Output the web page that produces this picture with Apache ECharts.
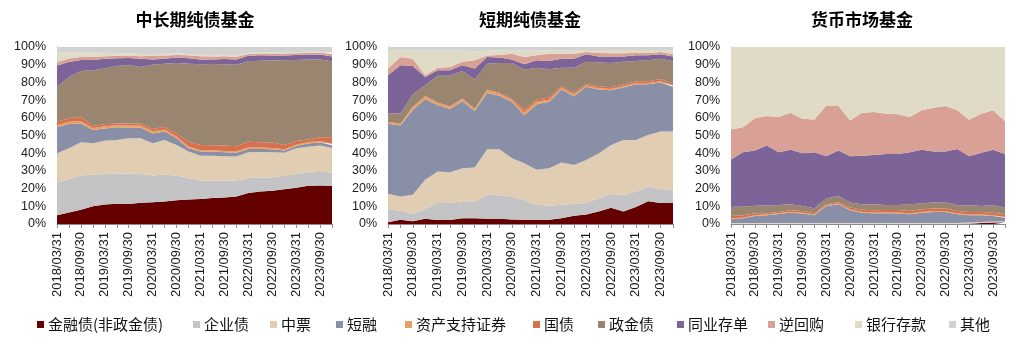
<!DOCTYPE html>
<html><head><meta charset="utf-8">
<script src="https://cdn.jsdelivr.net/npm/echarts@6/dist/echarts.min.js"></script>
<style>html,body{margin:0;padding:0;background:#fff}#c{width:1026px;height:349px}</style>
</head><body><div id="c"></div>
<script>
// Categories (quarter ends)
const categories = ['2018/03/31','2018/06/30','2018/09/30','2018/12/31','2019/03/31','2019/06/30','2019/09/30','2019/12/31',
 '2020/03/31','2020/06/30','2020/09/30','2020/12/31','2021/03/31','2021/06/30','2021/09/30','2021/12/31',
 '2022/03/31','2022/06/30','2022/09/30','2022/12/31','2023/03/31','2023/06/30','2023/09/30','2023/12/31'];
const seriesNames = ['金融债(非政金债)','企业债','中票','短融','资产支持证券','国债','政金债','同业存单','逆回购','银行存款','其他'];
const panelTitles = ['中长期纯债基金','短期纯债基金','货币市场基金'];

// 中长期纯债基金 (%)
const lt_fin   = [5,6.5,8,10,11,11.5,11.3,12,12.3,12.7,13.4,13.8,14.1,14.7,15,15.6,17.5,18.4,18.8,19.7,20.5,21.6,21.8,21.6];
const lt_corp  = [18.5,18.8,19.4,17.8,17.3,17,17.2,16.3,15.1,15.3,14,12.2,10.5,9.9,9.6,9,8.5,7.9,7.5,7.5,7.8,7.9,8.2,7.4];
const lt_mtn   = [16.5,17.5,18.8,17.8,18.7,19,19.9,20.1,18.2,19.5,17.3,14.9,13.9,13.9,13.7,13.5,14.5,14.4,14.2,13.1,14.5,14.2,14.3,14];
const lt_cp    = [14.6,13.7,10.6,7.5,7,7.1,6,6,5.6,4.7,3.7,1.9,2.4,2.4,2.2,2.2,1.9,1.7,1.7,1.2,1.2,1.8,1.7,1.5];
const lt_abs   = [1.2,1.2,1.2,1.2,1.2,1.2,1.2,1.2,1.2,1.2,1.0,1.0,0.8,0.8,0.8,0.8,0.8,0.8,0.8,0.8,0.8,0.8,0.8,0.8];
const lt_gov   = [2.0,2.0,2.6,1.2,1.1,1.0,1.2,1.2,1.3,1.6,1.8,2.7,3.0,2.8,3.0,2.8,3.3,3.0,3.0,2.4,2.1,1.5,2.2,3.7];
const lt_pfb   = [19.7,23.3,25.9,31.4,31.5,32.5,33.2,31.9,36.3,35.6,39.8,44.1,45.5,45.9,45.9,46.1,45.5,46.1,46.5,47.8,45.8,45.2,44,43];
const lt_ncd   = [12,8.5,6.2,5.8,5.6,4.3,3.8,4.6,2.9,2.8,3,3,2.7,2.6,3,2.9,3,3,2.7,2.7,2.8,2.7,2.7,2.7];
const lt_repo  = [2,2,1.6,1.8,1.4,1.4,1.4,1.5,2.1,1.8,1.5,1.7,1.9,1.7,1.6,1.6,1,1,1.1,1.1,1,1,1,1.3];
const lt_dep   = [5.5,3.5,2.7,2.5,2,1.5,1.2,1.2,1,1,0.8,0.8,0.8,0.8,0.8,0.8,0.8,0.7,0.7,0.7,0.7,0.6,0.6,0.8];
const lt_other = [3,3,3,3,3.2,3.5,3.6,4,4,3.8,3.7,3.9,4.4,4.5,4.4,4.7,3.2,3,3,3,2.8,2.7,2.7,3.2];

// 短期纯债基金 (%)
const st_fin   = [1,2.4,1.5,3,2.3,2.3,3.2,3.2,3,3,2.6,2.4,2.3,2.4,3.2,4.7,5.4,7.1,9.2,7,9.6,12.8,11.8,11.8];
const st_corp  = [7.4,5.1,4.3,5.6,9.5,9.5,9.6,9.6,13.5,13.3,13,11.3,8.6,7.9,7.7,6.7,6.4,7.5,7.9,9.3,8.8,8.4,7.9,7.9];
const st_mtn   = [8.7,8.1,10.7,16.4,17.8,17.5,18.7,19.1,25.7,25.9,21.5,20.6,19.7,21.2,23.8,22,24.4,25.2,27.6,31.2,29.1,29.1,32.5,32.5];
const st_cp    = [39.6,40.1,47.9,45.5,37.6,35.7,37.9,31.9,31.8,30.2,31.9,27.2,37.1,37.5,41.3,38.8,41.3,36.2,30.9,29.6,31.5,28.7,27.8,25.3];
const st_abs   = [0.8,0.8,1.5,1.5,1.2,1.2,1.2,1,1.5,1.2,1,1.5,1.5,1.2,1,1,0.8,0.8,0.7,0.7,0.7,0.7,0.7,0.7];
const st_gov   = [0.3,0.2,0.3,0.3,0.3,0.3,0.3,0.3,0.5,0.6,0.8,1.5,1.2,1.3,0.8,1,0.8,1,1,1,1,1,1.2,1.2];
const st_pfb   = [4.7,5.8,7,6.1,15,17.2,15.6,16.5,14.6,16.8,20.2,22.7,17.9,15.9,10.5,14.1,12.5,13.4,13.7,12.8,11.4,11.8,11.5,12.7];
const st_ncd   = [21.5,27.2,16.1,4.7,3.2,3.2,3.2,6.2,3.8,3,2,3,4.2,4.7,5.1,5.1,4.3,3.5,3.7,3.1,3.2,2.8,2.5,2.6];
const st_repo  = [3.8,4.7,4.1,0.9,1.4,1.8,1.9,4.7,0.8,1.5,3.2,4.2,2.8,4.1,2.8,2.8,1.3,1.9,1.7,1.7,1.3,1.3,1.3,1.2];
const st_dep   = [10.2,3.6,4.6,14.2,9.7,9.3,6.4,5,2.8,2.5,1.8,3.6,2.7,1.8,1.8,1.8,1.1,1.7,1.9,1.9,1.7,1.7,1.1,2.4];
const st_other = [2,2,2,1.8,2,2,2,2.5,2,2,2,2,2,2,2,2,1.7,1.7,1.7,1.7,1.7,1.7,1.7,1.7];

// 货币市场基金 (%)
const mm_fin   = [0,0,0,0,0,0,0,0,0,0,0,0,0,0,0,0,0,0,0,0,0.2,0.5,0.8,0.8];
const mm_corp  = [0.3,0.3,0.3,0.3,0.3,0.3,0.3,0.3,0.3,0.3,0.3,0.3,0.3,0.3,0.3,0.3,0.3,0.3,0.3,0.3,0.3,0.3,0.3,0.3];
const mm_mtn   = [0.3,0.3,0.3,0.3,0.3,0.3,0.3,0.3,0.3,0.3,0.3,0.3,0.3,0.3,0.3,0.3,0.3,0.3,0.3,0.3,0.3,0.3,0.3,0.3];
const mm_cp    = [2.1,2.6,3.9,4.3,5.1,5.8,5.4,4.3,9.6,10.6,7.2,5.8,5.5,5.5,5.5,4.9,5.8,6.2,6.2,4.9,4.1,3.8,3.1,2.2];
const mm_abs   = [0.4,0.4,0.4,0.4,0.4,0.4,0.4,0.4,0.4,0.4,0.4,0.4,0.4,0.4,0.4,0.4,0.4,0.4,0.4,0.4,0.4,0.4,0.4,0.4];
const mm_gov   = [1.4,1.3,1.2,0.8,0.7,1,1,0.8,0.6,0.9,1.1,1.2,1.3,1.4,1.4,1.5,1.5,1.5,1.7,1.5,1.5,1.5,1.5,1.5];
const mm_pfb   = [5.3,4.9,4.2,4.4,4,3.4,2.8,2.8,3.2,3.4,2.8,3.2,3.4,2.9,2.9,3.8,3.4,3.4,3.6,3.2,3.8,3.4,4.2,3.8];
const mm_ncd   = [26.6,30.7,31.2,33.8,29.7,30.8,29.8,31.6,23.9,25.6,26.2,27.4,27.8,28.8,28.8,29.3,30.3,28.8,28.4,31.8,27.7,30,31.4,30.3];
const mm_repo  = [17,14.2,18.3,16.7,19.9,20.9,19.5,18.6,28.7,25.5,20.2,24.3,24.3,22.7,22.4,19.9,22.2,24.8,25.8,21.8,20.6,22.1,22.2,18.5];
const mm_dep   = [46.6,45.3,40.2,39,39.6,37.1,40.5,40.9,33,33,41.5,37.1,36.7,37.7,38,39.6,35.8,34.3,33.3,35.8,41.1,37.7,35.8,41.9];
const mm_other = [0,0,0,0,0,0,0,0,0,0,0,0,0,0,0,0,0,0,0,0,0,0,0,0];

const yTicks = [0,10,20,30,40,50,60,70,80,90,100];

const panelData = [
  [lt_fin,lt_corp,lt_mtn,lt_cp,lt_abs,lt_gov,lt_pfb,lt_ncd,lt_repo,lt_dep,lt_other],
  [st_fin,st_corp,st_mtn,st_cp,st_abs,st_gov,st_pfb,st_ncd,st_repo,st_dep,st_other],
  [mm_fin,mm_corp,mm_mtn,mm_cp,mm_abs,mm_gov,mm_pfb,mm_ncd,mm_repo,mm_dep,mm_other]
];
const colors = ['#640000','#c4c4c6','#e1cdb1','#8a8fa8','#e8a060','#d7714d','#9a8670','#7c6499','#d9a195','#dfdbc6','#d2d2d2'];

const latin = 'Liberation Sans, Arial, Noto Sans CJK SC, sans-serif';
const cjk = 'Noto Sans CJK SC, sans-serif';

const gridPos = [
  {left:57, width:275, top:47, height:177},
  {left:388, width:285, top:47, height:177},
  {left:731, width:274, top:47, height:177}
];
const titleX = [195, 530, 862];

function normalize(arrs){
  const n = arrs[0].length;
  const sums = [];
  for(let i=0;i<n;i++){let s=0; arrs.forEach(a=>s+=a[i]); sums.push(s);}
  return arrs.map(a=>a.map((v,i)=>v/sums[i]*100));
}

const option = {
  animation:false,
  backgroundColor:'#fff',
  title: panelTitles.map((t,p)=>({text:t, left:titleX[p], top:11, textAlign:'center', padding:0,
     textStyle:{fontFamily:cjk, fontSize:17, fontWeight:'bold', color:'#000'}})),
  grid: gridPos,
  xAxis: gridPos.map((g,p)=>({type:'category', gridIndex:p, data:categories, boundaryGap:false,
     axisLine:{show:true, lineStyle:{color:'#8c8c8c', width:1}},
     axisTick:{show:true, interval:0, length:4, lineStyle:{color:'#8c8c8c'}},
     axisLabel:{interval:1, rotate:90, fontSize:13, fontFamily:latin, color:'#1a1a1a', margin:8},
     splitLine:{show:false}})),
  yAxis: gridPos.map((g,p)=>({type:'value', gridIndex:p, min:yTicks[0], max:yTicks[yTicks.length-1], interval:yTicks[1]-yTicks[0],
     axisLine:{show:true, lineStyle:{color:'#a0a0a0'}},
     axisTick:{show:false},
     axisLabel:{formatter:'{value}%', fontSize:12.5, fontFamily:latin, color:'#1a1a1a', margin:11},
     splitLine:{show:false}})),
  legend: [],
  series: []
};

const legendLeft = [37,193,270,336,405,533,598,677,768,855,949];
seriesNames.forEach((nm,k)=>{
  option.legend.push({data:[nm], left:legendLeft[k], top:317, padding:0, icon:'rect', itemWidth:7, itemHeight:7, itemGap:0,
    selectedMode:false, textStyle:{fontFamily:cjk, fontSize:15, color:'#111', padding:[0,0,0,-1]}});
});

panelData.forEach((arrs,p)=>{
  const norm = normalize(arrs);
  norm.forEach((d,k)=>{
    option.series.push({type:'line', name:seriesNames[k], xAxisIndex:p, yAxisIndex:p, stack:'p'+p,
      data:d, symbol:'none', showSymbol:false, smooth:false,
      lineStyle:{width:0}, itemStyle:{color:colors[k]},
      areaStyle:{color:colors[k], opacity:1}, emphasis:{disabled:true}, silent:true});
  });
});

const chart = echarts.init(document.getElementById('c'), null, {renderer:'canvas'});
chart.setOption(option);
</script>
</body></html>
